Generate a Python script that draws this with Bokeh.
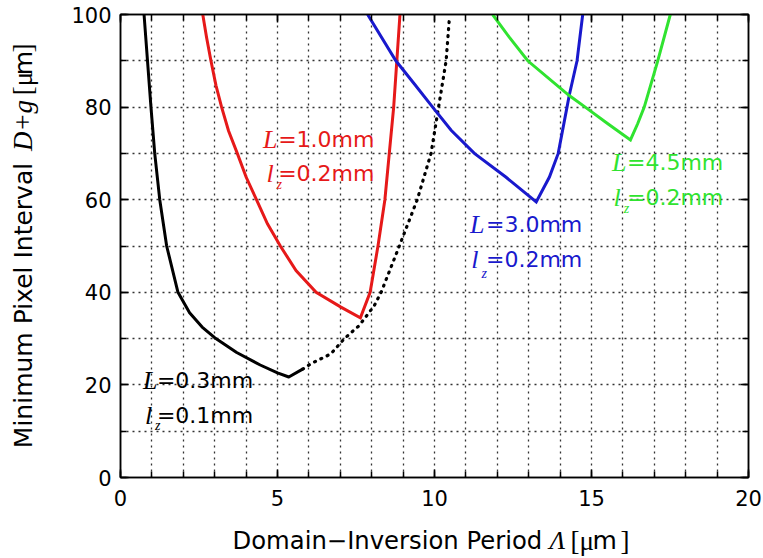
import math
from bokeh.plotting import figure
from bokeh.models import Range1d, FixedTicker, LinearAxis, Label, CustomJSTickFormatter
from bokeh.layouts import row, column
from bokeh.core.properties import value
from bokeh.embed import file_html
from bokeh.resources import INLINE

# ---------------- data ----------------
# L = 0.3 mm, lz = 0.1 mm (solid part)
black_x = [0.75, 0.86, 0.97, 1.09, 1.25, 1.47, 1.83, 2.2, 2.6, 3.0, 3.7, 4.45, 5.0, 5.36, 5.8]
black_y = [100, 90, 80, 70, 60, 50, 40, 35.6, 32.5, 30.2, 27.0, 24.3, 22.6, 21.7, 23.4]
# dotted continuation
dot_x = [5.8, 6.07, 6.7, 7.13, 7.6, 8.08, 8.3, 8.88, 9.45, 9.89, 10.13, 10.37, 10.47]
dot_y = [23.4, 24.6, 26.7, 30.0, 32.8, 37.1, 40, 50, 60, 70, 80, 90, 98.8]
# L = 1.0 mm, lz = 0.2 mm
red_x = [2.62, 2.74, 2.88, 3.04, 3.22, 3.44, 3.72, 4.0, 4.33, 4.68, 5.09, 5.59, 6.23, 7.02, 7.64,
         7.95, 8.2, 8.42, 8.56, 8.7, 8.8, 8.9]
red_y = [100, 95.1, 90, 84.7, 80, 74.9, 70, 64.9, 60, 54.8, 50, 44.7, 40, 36.8, 34.5,
         40, 50, 60, 70, 80, 90, 100]
# L = 3.0 mm, lz = 0.2 mm
blue_x = [7.87, 8.77, 9.36, 9.94, 10.53, 11.27, 12.27, 13.24, 13.66, 13.94, 14.22, 14.29, 14.54, 14.72]
blue_y = [100, 90, 85, 80, 75, 70, 64.9, 59.5, 64.9, 70, 80, 82.5, 90, 100]
# L = 4.5 mm, lz = 0.2 mm
green_x = [11.85, 12.38, 12.97, 14.29, 14.8, 15.52, 16.24, 16.47, 16.68, 17.11, 17.51]
green_y = [100, 95.1, 90, 82.5, 80, 76.4, 72.9, 76.4, 80, 90, 100]

x_major = [0, 5, 10, 15, 20]
x_minor = list(range(0, 21))
y_major = [0, 20, 40, 60, 80, 100]
y_minor = list(range(0, 101, 10))

RED = "#e61919"
BLUE = "#1919cd"
GREEN = "#30e330"
BLACK = "#000000"

# annotation texts
ann_L = ["0.3", "1.0", "3.0", "4.5"]
ann_lz = ["0.1", "0.2", "0.2", "0.2"]
ann_col = [BLACK, RED, BLUE, GREEN]

SANS = "DejaVu Sans"
SERIF = "Liberation Serif"

W, H = 763, 558
YT_W = 50          # width of the y-title strip
MAIN_H = 520       # height of main figure
F_TOP, F_BOT = 14, 477   # frame top / bottom in page pixels

p = figure(width=W - YT_W, height=MAIN_H, output_backend="svg", toolbar_location=None,
           x_range=Range1d(0, 20), y_range=Range1d(0, 100),
           min_border_left=120 - YT_W, min_border_right=15, min_border_top=F_TOP,
           min_border_bottom=MAIN_H - F_BOT, background_fill_color="white",
           border_fill_color="white")

p.outline_line_color = "black"
p.outline_line_width = 1.5

# grids
p.xgrid.ticker = FixedTicker(ticks=x_minor)
p.ygrid.ticker = FixedTicker(ticks=y_minor)
for g in (p.xgrid, p.ygrid):
    g.grid_line_color = "#333333"
    g.grid_line_dash = "2 4"
    g.grid_line_width = 1.3


def style_axis(ax, ticker, labels=True):
    ax.ticker = ticker
    ax.axis_line_color = "black"
    ax.axis_line_width = 1.5
    ax.major_tick_in = 8
    ax.major_tick_out = 0
    ax.minor_tick_in = 6
    ax.minor_tick_out = 0
    ax.major_tick_line_width = 1.5
    ax.minor_tick_line_width = 1.5
    ax.major_tick_line_color = "black"
    ax.minor_tick_line_color = "black"
    if labels:
        ax.major_label_text_font = SANS
        ax.major_label_text_font_size = "21px"
        ax.major_label_text_color = "black"
    else:
        ax.formatter = CustomJSTickFormatter(code="return ''")
        ax.major_label_text_font_size = "1px"
        ax.major_label_standoff = 0


style_axis(p.xaxis[0], FixedTicker(ticks=x_major, minor_ticks=x_minor))
style_axis(p.yaxis[0], FixedTicker(ticks=y_major, minor_ticks=y_minor))
p.xaxis[0].major_label_standoff = 12
p.yaxis[0].major_label_standoff = 9

top = LinearAxis()
style_axis(top, FixedTicker(ticks=x_major, minor_ticks=x_minor), labels=False)
right = LinearAxis()
style_axis(right, FixedTicker(ticks=y_major, minor_ticks=y_minor), labels=False)
p.add_layout(top, "above")
p.add_layout(right, "right")

# curves
p.line(black_x, black_y, line_color=BLACK, line_width=3, line_join="round")
p.line(dot_x, dot_y, line_color=BLACK, line_width=3.2, line_dash="1 6", line_cap="round")
p.line(red_x, red_y, line_color=RED, line_width=3, line_join="miter")
p.line(blue_x, blue_y, line_color=BLUE, line_width=3, line_join="miter")
p.line(green_x, green_y, line_color=GREEN, line_width=3, line_join="miter")


def lab(fig, x, y, s, font, size, color="black", style="normal", angle=0.0,
        align="left", baseline="alphabetic"):
    fig.add_layout(Label(x=x, y=y, text=s, text_font=font, text_font_size=size,
                         text_color=color, text_font_style=style, angle=angle,
                         angle_units="rad", text_align=align,
                         text_baseline=baseline))


SHIFT = 1.75  # baseline correction (data units)
# annotation positions (data units): L origin x, '=' origin x, baseline y line 1,
# l origin x, z origin x, z baseline, baseline y line 2
pos = [
    (0.72, 1.16, 19.2, 0.78, 1.1, 9.5, 11.66),
    (4.54, 5.02, 71.27, 4.65, 4.97, 61.56, 63.93),
    (11.13, 11.64, 52.92, 11.17, 11.5, 42.33, 45.36),
    (15.65, 16.13, 66.3, 15.7, 16.03, 56.37, 58.75),
]
for (lx, ex, b1, lzx, zx, zb, b2), Lv, lzv, c in zip(pos, ann_L, ann_lz, ann_col):
    lab(p, lx, b1 + SHIFT, "L", SERIF, "26px", c, "italic")
    lab(p, ex, b1 + SHIFT, "=" + Lv + "mm", SANS, "22px", c)
    lab(p, lzx, b2 + SHIFT, "l", SERIF, "26px", c, "italic")
    lab(p, zx, zb + SHIFT, "z", SERIF, "14px", c, "italic")
    lab(p, ex, b2 + SHIFT, "=" + lzv + "mm", SANS, "22px", c)


def strip(width, height, xr, yr, **borders):
    f = figure(width=width, height=height, output_backend="svg", toolbar_location=None,
               x_range=xr, y_range=yr, x_axis_type=None, y_axis_type=None,
               outline_line_color=None, background_fill_color="white",
               border_fill_color="white", **borders)
    f.grid.visible = False
    return f


# y-axis title strip: its frame is aligned with the main frame (page rows 14..477),
# so its y range is expressed in page pixels
yfig = strip(YT_W, MAIN_H, Range1d(0, YT_W), Range1d(F_BOT, F_TOP),
             min_border_left=0, min_border_right=0,
             min_border_top=F_TOP, min_border_bottom=MAIN_H - F_BOT)
ycx = 22.5
y_pieces = [
    (305, "Minimum Pixel Interval", SANS, "25px", "normal"),
    (125, "D+g", SERIF, "27px", "italic"),
    (83, "[\u03bc", SERIF, "27px", "normal"),
    (62.5, "m", SANS, "25px", "normal"),
    (47.5, "]", SERIF, "27px", "normal"),
]
for yy, s, f, fs, st in y_pieces:
    lab(yfig, ycx, yy, s, f, fs, style=st, angle=math.pi / 2,
        align="center", baseline="middle")

# x-axis title strip
xfig = strip(W, H - MAIN_H, Range1d(0, W), Range1d(H, MAIN_H), min_border=0)
xby = 540
x_pieces = [
    (232, "Domain\u2212Inversion Period", SANS, "24.3px", "normal"),
    (549, "\u039b", SERIF, "26px", "italic"),
    (570, "[\u03bc", SERIF, "27px", "normal"),
    (592, "m", SANS, "25px", "normal"),
    (620, "]", SERIF, "27px", "normal"),
]
for xx, s, f, fs, st in x_pieces:
    xfig.text(x=[xx], y=[xby], text=[s], text_font=value(f),
              text_font_size=value(fs), text_font_style=st, text_color="black",
              text_align="left", text_baseline="alphabetic")

layout = column(row(yfig, p, spacing=0), xfig, spacing=0)
open("out.html", "w").write(file_html(layout, INLINE))
